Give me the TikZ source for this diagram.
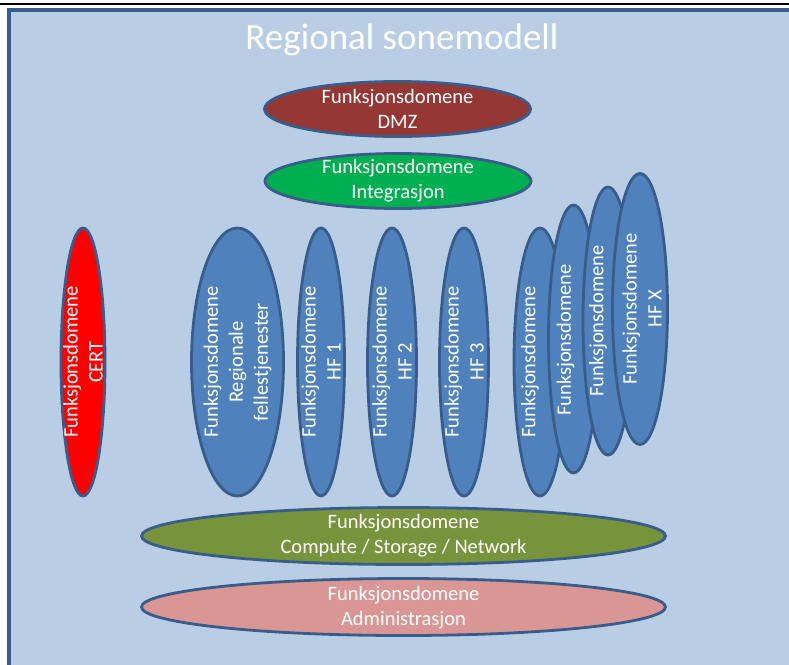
\documentclass[tikz,border=0pt]{standalone}
\usepackage{fontspec}
\setmainfont{Carlito}
\usetikzlibrary{shapes.geometric}
\definecolor{panel}{HTML}{B9CDE5}
\definecolor{edge}{HTML}{385D8A}
\definecolor{hfblue}{HTML}{4F81BD}
\definecolor{dmzred}{HTML}{953735}
\definecolor{intgreen}{HTML}{00B050}
\definecolor{cmpgreen}{HTML}{77933C}
\definecolor{admpink}{HTML}{D99694}
\definecolor{certred}{HTML}{FF0000}
\begin{document}
\begin{tikzpicture}[x=1pt,y=-1pt,
  dom/.style={ellipse, draw=edge, line width=2.8pt, inner sep=0pt},
  hdom/.style={dom, minimum height=55pt},
  vdom/.style={dom, fill=hfblue, minimum height=268pt},
  lbl/.style={text=white, align=center, font=\fontsize{20.5}{25}\selectfont, inner sep=0pt},
  vlbl/.style={lbl, rotate=90}]
\useasboundingbox (0,0) rectangle (789,664);
\fill[white] (0,0) rectangle (789,664);
\draw[line width=2pt] (0,4) -- (789,4);
\draw[edge, fill=panel, line width=4pt] (9,10) rectangle (800,690);
\node[text=white, font=\fontsize{37}{40}\selectfont, inner sep=0pt] (title) at (402,40) {Regional sonemodell};
% horizontal domains
\node[hdom, fill=dmzred, minimum width=266pt] (dmz) at (397.5,109) {};
\node[lbl] (dmzt) at (dmz.center) {Funksjonsdomene\\DMZ};
\node[hdom, fill=intgreen, minimum width=266pt] (int) at (398,181) {};
\node[lbl] (intt) at (int.center) {Funksjonsdomene\\Integrasjon};
\node[hdom, fill=cmpgreen, minimum width=524pt, minimum height=57pt] (cmp) at (403.5,536) {};
\node[lbl] (cmpt) at (cmp.center) {Funksjonsdomene\\Compute / Storage / Network};
\node[hdom, fill=admpink, minimum width=524pt, minimum height=57pt] (adm) at (403.5,607) {};
\node[lbl] (admt) at ([yshift=-1pt]adm.center) {Funksjonsdomene\\Administrasjon};
% vertical domains
\node[vdom, fill=certred, minimum width=44pt] (cert) at (83,362) {};
\node[vlbl] (certt) at (cert.center) {Funksjonsdomene\\CERT};
\node[vdom, minimum width=92pt] (reg) at (237.5,362) {};
\node[vlbl] (regt) at (reg.center) {Funksjonsdomene\\Regionale\\fellestjenester};
\node[vdom, minimum width=47pt] (hf1) at (321,362) {};
\node[vlbl] (hf1t) at (hf1.center) {Funksjonsdomene\\HF 1};
\node[vdom, minimum width=49pt] (hf2) at (392,362) {};
\node[vlbl] (hf2t) at (hf2.center) {Funksjonsdomene\\HF 2};
\node[vdom, minimum width=49pt] (hf3) at (464,362) {};
\node[vlbl] (hf3t) at (hf3.center) {Funksjonsdomene\\HF 3};
% stacked domains
\node[vdom, minimum width=52pt] (s1) at (540,362) {};
\node[vlbl] (s1t) at ([xshift=-10pt]s1.center) {Funksjonsdomene};
\node[vdom, minimum width=50pt] (s2) at (573.5,339) {};
\node[vlbl] (s2t) at ([xshift=-8pt,yshift=-1pt]s2.center) {Funksjonsdomene};
\node[vdom, minimum width=50pt] (s3) at (608,321) {};
\node[vlbl] (s3t) at ([xshift=-10pt]s3.center) {Funksjonsdomene};
\node[vdom, minimum width=55pt, minimum height=271pt] (s4) at (640,309) {};
\node[vlbl] (s4t) at ([xshift=2pt]s4.center) {Funksjonsdomene\\HF X};
\end{tikzpicture}
\end{document}
